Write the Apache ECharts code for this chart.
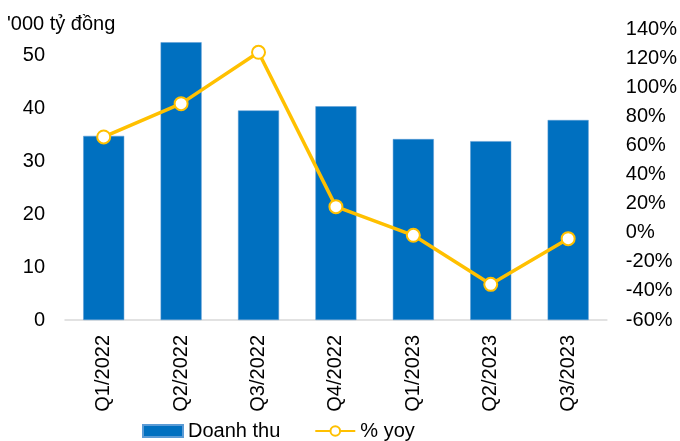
<!DOCTYPE html>
<html><head><meta charset="utf-8">
<script src="https://cdn.jsdelivr.net/npm/echarts@6/dist/echarts.min.js"></script>
<style>html,body{margin:0;padding:0;background:#fff}#c{width:680px;height:441px}</style>
</head><body><div id="c"></div>
<script>
const categories = ['Q1/2022','Q2/2022','Q3/2022','Q4/2022','Q1/2023','Q2/2023','Q3/2023'];
const revenue = [34.8, 52.5, 39.6, 40.4, 34.2, 33.8, 37.8];
const yoy = [65.8, 88.7, 124, 17.9, -1.8, -35.5, -4.1];
const leftTicks = {min: 0, max: 55, interval: 10};
const rightTicks = {min: -60, max: 140, interval: 20};

const font = 'Liberation Sans, Arial, sans-serif';
const chart = echarts.init(document.getElementById('c'));
chart.setOption({
  animation: false,
  textStyle: {fontFamily: font},
  title: {text: "'000 tỷ đồng", left: 2, top: 9,
    textStyle: {fontFamily: font, fontSize: 20, fontWeight: 'normal', color: '#000'}},
  grid: {left: 65, right: 72, top: 29, bottom: 121},
  legend: {
    left: 137, top: 416, itemWidth: 40, itemHeight: 12, itemGap: 34,
    textStyle: {fontFamily: font, fontSize: 20, color: '#000'},
    data: [{name: 'Doanh thu', icon: 'rect'}, {name: '% yoy'}]
  },
  xAxis: {
    type: 'category', data: categories,
    axisLine: {lineStyle: {color: '#d9d9d9', width: 1.5}},
    axisTick: {show: false},
    axisLabel: {rotate: 90, fontSize: 20, color: '#000', margin: 15, fontFamily: font}
  },
  yAxis: [
    {type: 'value', min: leftTicks.min, max: leftTicks.max, interval: leftTicks.interval,
      splitLine: {show: false}, axisLine: {show: false}, axisTick: {show: false},
      axisLabel: {fontSize: 20, color: '#000', margin: 20, showMaxLabel: false, fontFamily: font}},
    {type: 'value', min: rightTicks.min, max: rightTicks.max, interval: rightTicks.interval,
      splitLine: {show: false}, axisLine: {show: false}, axisTick: {show: false},
      axisLabel: {fontSize: 20, color: '#000', margin: 19, formatter: '{value}%', fontFamily: font}}
  ],
  series: [
    {name: 'Doanh thu', type: 'bar', data: revenue, barWidth: 41, yAxisIndex: 0,
      itemStyle: {color: '#0070C0', borderColor: '#5b9bd5', borderWidth: 0.5}},
    {name: '% yoy', type: 'line', data: yoy, yAxisIndex: 1, symbol: 'circle', symbolSize: 13,
      lineStyle: {color: '#FFC000', width: 3.5},
      itemStyle: {color: '#fff', borderColor: '#FFC000', borderWidth: 2}}
  ]
});
</script></body></html>
